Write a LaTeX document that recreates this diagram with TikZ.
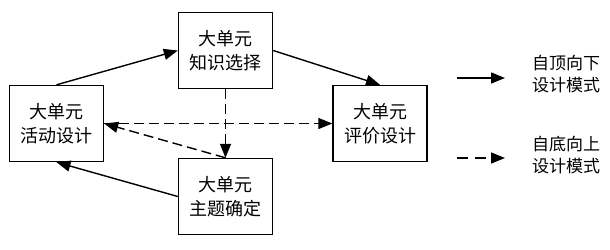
\documentclass[tikz,border=0pt]{standalone}
\usepackage{fontspec}
\newfontfamily\cjk{Noto Sans CJK SC}
\usetikzlibrary{arrows.meta}

\begin{document}
\begin{tikzpicture}[x=1pt,y=-1pt,
  box/.style={draw=black,line width=1.4pt,minimum width=94pt,minimum height=76pt,
    align=center,font=\cjk\fontsize{18}{24}\selectfont,inner sep=0pt},
  legend/.style={align=left,anchor=west,font=\cjk\fontsize{17}{22}\selectfont,inner sep=0pt},
  topdown/.style={-{Triangle[length=14pt,width=11pt]},line width=1.4pt},
  bottomup/.style={-{Triangle[length=14pt,width=11pt]},line width=1.4pt,dash pattern=on 10pt off 5pt},
]

\useasboundingbox (0,0) rectangle (610,249);

\node[box] (select) at (225.5,50.5) {大单元\\知识选择};
\node[box] (activity) at (56.5,123.5) {大单元\\活动设计};
\node[box] (assess) at (380,123.5) {大单元\\评价设计};
\node[box] (theme) at (225.5,196.5) {大单元\\主题确定};

\draw[topdown] (activity.north) -- (select.west);
\draw[topdown] (select.east) -- (assess.north);
\draw[topdown] (theme.west) -- (activity.south);

\draw[bottomup] (select.south) -- (theme.north);
\draw[bottomup] (theme.north) -- (activity.east);
\draw[bottomup] (activity.east) -- (assess.west);

\coordinate (solidA) at (457,78);
\coordinate (solidB) at (505,78);
\coordinate (dashA) at (457,158);
\coordinate (dashB) at (505,158);
\draw[topdown] (solidA) -- (solidB);
\draw[bottomup,dash pattern=on 11pt off 7pt] (dashA) -- (dashB);
\node[legend] (tdtext) at (532,74) {自顶向下\\设计模式};
\node[legend] (butext) at (532,155) {自底向上\\设计模式};

\end{tikzpicture}
\end{document}
